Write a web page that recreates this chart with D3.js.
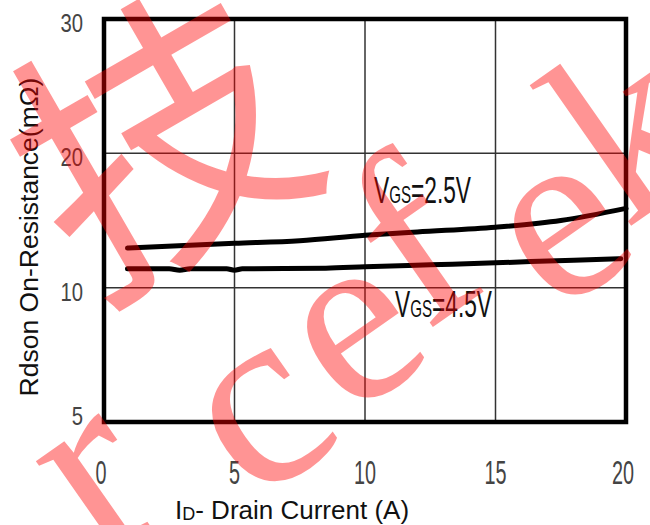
<!DOCTYPE html>
<html><head><meta charset="utf-8">
<script src="https://cdn.jsdelivr.net/npm/d3@7"></script>
<style>body{margin:0;background:#fff;} svg{display:block}</style>
</head><body><svg id="c" width="650" height="525"></svg>
<script>
// ---- data ----
const xTicks = [0, 5, 10, 15, 20];
const xTickLabels = ["0", "5", "10", "15", "20"];
const yTicks = [0, 10, 20, 30];
const yTickLabels = ["5", "10", "20", "30"];
const id25 = [0.9, 5, 7.5, 10, 12, 15, 17.5, 20];
const r25  = [12.95, 13.3, 13.5, 13.9, 14.15, 14.5, 15.0, 15.9];
const id45 = [0.9, 2.5, 2.9, 3.3, 4.7, 5, 5.3, 8.5, 10, 12.5, 15, 18, 19.8];
const r45  = [11.4, 11.4, 11.3, 11.4, 11.4, 11.3, 11.4, 11.45, 11.55, 11.7, 11.85, 12.05, 12.15];
const seriesLabels = [["V", "GS", "=2.5V"], ["V", "GS", "=4.5V"]];
const watermarkChars = ["技", "r", "c", "e", "f", "e", "k"];

// ---- drawing ----
const svg = d3.select("#c");
const x = d3.scaleLinear().domain([0, 20]).range([104, 626]);
const y = d3.scaleLinear().domain([0, 30]).range([422, 19]);

// grid
svg.append("g").selectAll("line").data([5, 10, 15]).join("line")
  .attr("x1", d => x(d)).attr("x2", d => x(d)).attr("y1", y(30)).attr("y2", y(0))
  .attr("stroke", "#333").attr("stroke-width", 1.5);
svg.append("g").selectAll("line").data([10, 20]).join("line")
  .attr("y1", d => y(d)).attr("y2", d => y(d)).attr("x1", x(0)).attr("x2", x(20))
  .attr("stroke", "#333").attr("stroke-width", 1.5);

// frame
svg.append("rect").attr("x", x(0)).attr("y", y(30))
  .attr("width", x(20) - x(0)).attr("height", y(0) - y(30))
  .attr("fill", "none").attr("stroke", "#000").attr("stroke-width", 4.5);

// curves
const line = d3.line().x(d => x(d[0])).y(d => y(d[1])).curve(d3.curveMonotoneX);
svg.append("path").datum(id25.map((v, i) => [v, r25[i]])).attr("d", line)
  .attr("fill", "none").attr("stroke", "#000").attr("stroke-width", 5).attr("stroke-linecap", "round");
svg.append("path").datum(id45.map((v, i) => [v, r45[i]])).attr("d", line)
  .attr("fill", "none").attr("stroke", "#000").attr("stroke-width", 5).attr("stroke-linecap", "round");

// y tick labels
const yl = svg.append("g").selectAll("g").data(yTicks).join("g")
  .attr("transform", d => `translate(83,${Math.min(y(d) + 13, 425)}) scale(0.78,1)`);
yl.append("text").attr("text-anchor", "end").attr("font-family", "Liberation Sans, Arial, sans-serif")
  .attr("font-size", 26).attr("fill", "#444").text((d, i) => yTickLabels[i]);

// x tick labels
const xl = svg.append("g").selectAll("g").data(xTicks).join("g")
  .attr("transform", d => `translate(${x(d) - (d === 0 ? 3 : d === 20 ? 3 : 0)},484) scale(0.6,1)`);
xl.append("text").attr("text-anchor", "middle").attr("font-family", "Liberation Sans, Arial, sans-serif")
  .attr("font-size", 33).attr("fill", "#444").text((d, i) => xTickLabels[i]);

// axis titles
const xt = svg.append("text").attr("x", 175).attr("y", 519)
  .attr("font-family", "Liberation Sans, Arial, sans-serif").attr("font-size", 26).attr("fill", "#111");
xt.append("tspan").text("I");
xt.append("tspan").attr("font-size", 18).attr("dy", 1).text("D");
xt.append("tspan").attr("dy", -1).text("- Drain Current (A)");

svg.append("text").attr("transform", "translate(38,237) rotate(-90)").attr("text-anchor", "middle")
  .attr("font-family", "Liberation Sans, Arial, sans-serif").attr("font-size", 26.5).attr("fill", "#111")
  .text("Rdson On-Resistance(mΩ)");

// series labels
const labelPos = [[374, 203], [395, 317]];
seriesLabels.forEach((parts, i) => {
  const t = svg.append("text").attr("x", labelPos[i][0]).attr("y", labelPos[i][1])
    .attr("font-family", "Liberation Sans, Arial, sans-serif").attr("font-size", 36).attr("fill", "#111")
    .attr("textLength", 97).attr("lengthAdjust", "spacingAndGlyphs");
  t.append("tspan").text(parts[0]);
  t.append("tspan").attr("font-size", 24).text(parts[1]);
  t.append("tspan").text(parts[2]);
});

// watermark
const wmPos = [[150, 125, 285, -30], [85, 465, 260, -35], [250, 400, 260, -35], [345, 318, 250, -35],
               [410, 240, 250, -35], [552, 215, 250, -35], [628, 125, 250, -35]];
const wm = svg.append("g").attr("fill", "#ff0000").attr("fill-opacity", 0.42);
watermarkChars.forEach((ch, i) => {
  const p = wmPos[i];
  wm.append("text").attr("transform", `translate(${p[0]},${p[1]}) rotate(${p[3]})`)
    .attr("text-anchor", "middle").attr("dominant-baseline", "central")
    .attr("font-family", i === 0 ? "Noto Sans CJK SC" : "Liberation Serif, serif")
    .attr("font-size", p[2]).text(ch);
});
</script>
</body></html>
